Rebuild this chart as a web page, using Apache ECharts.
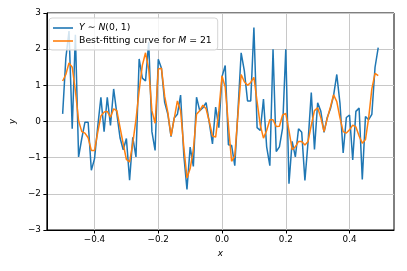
<!DOCTYPE html>
<html>
<head>
<meta charset="utf-8">
<script src="https://cdn.jsdelivr.net/npm/echarts@6/dist/echarts.min.js"></script>
<style>html,body{margin:0;padding:0;background:#fff}#c{width:407px;height:271px}</style>
</head>
<body>
<div id="c"></div>
<script>
var xValues = [-0.50,-0.49,-0.48,-0.47,-0.46,-0.45,-0.44,-0.43,-0.42,-0.41,
-0.40,-0.39,-0.38,-0.37,-0.36,-0.35,-0.34,-0.33,-0.32,-0.31,
-0.30,-0.29,-0.28,-0.27,-0.26,-0.25,-0.24,-0.23,-0.22,-0.21,
-0.20,-0.19,-0.18,-0.17,-0.16,-0.15,-0.14,-0.13,-0.12,-0.11,
-0.10,-0.09,-0.08,-0.07,-0.06,-0.05,-0.04,-0.03,-0.02,-0.01,
0.00,0.01,0.02,0.03,0.04,0.05,0.06,0.07,0.08,0.09,
0.10,0.11,0.12,0.13,0.14,0.15,0.16,0.17,0.18,0.19,
0.20,0.21,0.22,0.23,0.24,0.25,0.26,0.27,0.28,0.29,
0.30,0.31,0.32,0.33,0.34,0.35,0.36,0.37,0.38,0.39,
0.40,0.41,0.42,0.43,0.44,0.45,0.46,0.47,0.48,0.49];

var noisyY = [0.21,1.75,2.5,-0.2,2.4,-0.98,-0.47,-0.02,-0.02,-1.35,
-1.03,-0.15,0.67,-0.28,0.67,-0.11,0.9,0.22,-0.45,-0.78,
-0.47,-1.62,-0.44,-0.98,1.73,1.2,1.12,2.2,-0.28,-0.8,
1.72,1.47,0.53,0.2,-0.42,0.1,0.2,0.73,-0.92,-1.88,
-0.71,-1.24,0.67,0.3,0.38,0.52,-0.03,-0.62,0.4,-0.17,
1.24,1.55,-0.64,-0.66,-1.22,0.3,1.9,1.4,0.57,0.57,
2.6,-0.17,-0.25,0.62,-0.7,-1.22,2.0,-0.83,-0.7,-0.18,
2.0,-1.72,-0.55,-0.98,-0.2,-0.3,-1.63,-0.55,0.8,-0.77,
0.52,0.28,-0.3,0.11,0.35,0.72,1.3,0.5,-0.87,0.11,
0.18,-1.06,0.28,0.37,-1.6,0.14,0.05,0.2,1.5,2.04];

var fitY = [1.12,1.3,1.62,1.5,0.85,0.02,-0.28,-0.32,-0.45,-0.8,
-0.8,-0.3,0.15,0.26,0.28,0.12,0.35,0.3,-0.16,-0.62,
-1.05,-1.12,-0.6,0.05,0.85,1.55,1.9,1.45,0.3,-0.05,
1.45,1.47,0.7,0.25,-0.4,0.08,0.57,0.3,-0.7,-1.56,
-1.3,-0.78,0.2,0.3,0.45,0.35,0.0,-0.4,-0.43,0.3,
1.26,0.95,-0.1,-1.1,-0.95,0.2,1.3,1.1,1.0,1.08,
1.22,0.55,-0.1,-0.46,-0.25,0.05,0.05,-0.14,-0.13,0.18,
0.22,-0.25,-0.78,-0.7,-0.55,-0.55,-0.65,-0.55,-0.1,0.3,
0.38,0.1,-0.28,0.08,0.4,0.74,0.55,0.1,-0.28,-0.32,
-0.23,-0.1,-0.15,-0.4,-0.6,-0.5,0.1,0.9,1.33,1.27];

var xTicks = [-0.4,-0.2,0.0,0.2,0.4];
var yTicks = [-3,-2,-1,0,1,2,3];

function pairs(xs, ys){ var o=[]; for(var i=0;i<xs.length;i++){o.push([xs[i],ys[i]]);} return o; }
function minus(s){ return String(s).replace('-', '\u2212'); }

var FONT = 'DejaVu Sans';
var FS = 8.8;
var LFS = 9.3;
var chart = echarts.init(document.getElementById('c'), null, {renderer:'canvas'});
chart.setOption({
  animation: false,
  backgroundColor: '#fff',
  grid: {left:45, right:13, top:13, bottom:41, show:true, borderColor:'#000', borderWidth:1, backgroundColor:'transparent'},
  legend: {
    orient:'vertical', left:49, top:18,
    padding:[4,6,3,4], itemGap:1, itemWidth:20, itemHeight:1.6,
    icon:'rect', z:10,
    backgroundColor:'rgba(255,255,255,0.8)', borderColor:'#d5d5d5', borderWidth:1, borderRadius:3,
    textStyle:{fontFamily:FONT, fontSize:LFS, color:'#000', lineHeight:12, padding:[0,0,0,1],
      rich:{
        n:{fontFamily:FONT, fontSize:LFS, color:'#000', lineHeight:12},
        i:{fontFamily:FONT, fontSize:LFS, fontStyle:'italic', color:'#000', lineHeight:12}
      }},
    formatter:function(name){
      if(name==='noisy') return '{i|Y}{n| \u223C }{i|N}{n|(0, 1)}';
      return '{n|Best-fitting curve for }{i|M}{n| = 21}';
    },
    data:['noisy','fit']
  },
  xAxis: {
    type:'value', min:-0.5495, max:0.5395,
    name:'x', nameLocation:'middle', nameGap:19,
    nameTextStyle:{fontFamily:FONT, fontSize:FS, fontStyle:'italic', color:'#000'},
    axisLine:{show:true, onZero:false, lineStyle:{color:'#000', width:1}},
    axisTick:{show:true, length:3.5, inside:false, customValues:xTicks, lineStyle:{color:'#000', width:1}},
    axisLabel:{customValues:xTicks, margin:5, fontFamily:FONT, fontSize:FS, color:'#000',
      formatter:function(v){ return minus(Number(v).toFixed(1)); }},
    splitLine:{show:true, lineStyle:{color:'#c8c8c8', width:1}}
  },
  yAxis: {
    type:'value', min:-3, max:3, interval:1,
    name:'y', nameLocation:'middle', nameGap:26, nameRotate:90,
    nameTextStyle:{fontFamily:FONT, fontSize:FS, fontStyle:'italic', color:'#000'},
    axisLine:{show:true, onZero:false, lineStyle:{color:'#000', width:1}},
    axisTick:{show:true, length:3.5, lineStyle:{color:'#000', width:1}},
    axisLabel:{margin:6, fontFamily:FONT, fontSize:FS, color:'#000',
      formatter:function(v){ return minus(v); }},
    splitLine:{show:true, lineStyle:{color:'#c8c8c8', width:1}}
  },
  series: [
    {name:'noisy', type:'line', data:pairs(xValues, noisyY), showSymbol:false, symbol:'none',
      lineStyle:{color:'#1f77b4', width:1.5}, itemStyle:{color:'#1f77b4'}, z:2},
    {name:'fit', type:'line', data:pairs(xValues, fitY), showSymbol:false, symbol:'none',
      lineStyle:{color:'#ff7f0e', width:1.5}, itemStyle:{color:'#ff7f0e'}, z:3}
  ]
});
</script>
</body>
</html>
